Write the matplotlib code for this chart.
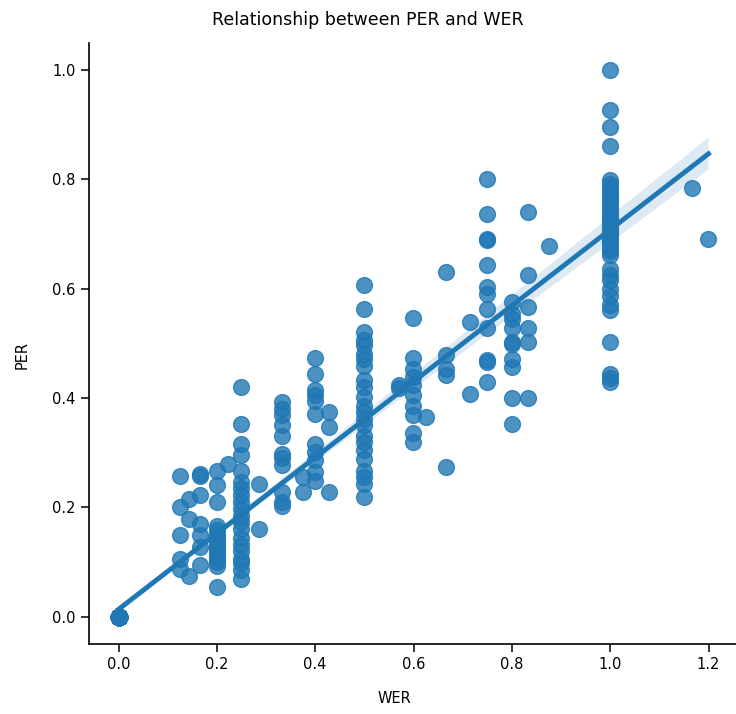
import numpy as np
import pandas as pd
import matplotlib
matplotlib.use("Agg")
import matplotlib.pyplot as plt
import seaborn as sns

# PER values observed at each WER level
per_wer_0 = [0.0] * 150
per_wer_1_8 = [0.258, 0.200, 0.149, 0.106, 0.088]
per_wer_1_7 = [0.216, 0.179, 0.075]
per_wer_1_6 = [0.261, 0.258, 0.222, 0.170, 0.149, 0.128, 0.094]
per_wer_1_5 = [0.267, 0.240, 0.210, 0.165, 0.158, 0.150, 0.143, 0.137, 0.130,
               0.125, 0.118, 0.112, 0.105, 0.100, 0.092, 0.055]
per_wer_2_9 = [0.280]
per_wer_1_4 = [0.420, 0.353, 0.316, 0.295, 0.267, 0.247, 0.235, 0.222, 0.210,
               0.197, 0.185, 0.174, 0.160, 0.143, 0.131, 0.120, 0.106, 0.098,
               0.085, 0.068]
per_wer_2_7 = [0.243, 0.161]
per_wer_1_3 = [0.392, 0.380, 0.368, 0.350, 0.331, 0.298, 0.290, 0.277, 0.228,
               0.210, 0.203]
per_wer_3_8 = [0.255, 0.228]
per_wer_2_5 = [0.473, 0.444, 0.414, 0.405, 0.395, 0.371, 0.316, 0.301, 0.286,
               0.265, 0.249]
per_wer_3_7 = [0.375, 0.347, 0.228]
per_wer_1_2 = [0.607, 0.563, 0.520, 0.505, 0.496, 0.480, 0.472, 0.459, 0.432,
               0.420, 0.402, 0.386, 0.374, 0.362, 0.350, 0.331, 0.319, 0.304,
               0.289, 0.267, 0.255, 0.243, 0.219]
per_wer_4_7 = [0.423, 0.418]
per_wer_3_5 = [0.546, 0.473, 0.453, 0.438, 0.423, 0.405, 0.386, 0.368, 0.335, 0.319]
per_wer_5_8 = [0.365]
per_wer_2_3 = [0.630, 0.478, 0.453, 0.441, 0.274]
per_wer_5_7 = [0.539, 0.408]
per_wer_3_4 = [0.800, 0.737, 0.691, 0.689, 0.643, 0.603, 0.590, 0.563, 0.527,
               0.469, 0.465, 0.429]
per_wer_4_5 = [0.575, 0.554, 0.545, 0.527, 0.502, 0.498, 0.472, 0.456, 0.400, 0.353]
per_wer_5_6 = [0.740, 0.625, 0.566, 0.527, 0.502, 0.400]
per_wer_7_8 = [0.678]
per_wer_1 = [0.999, 0.926, 0.895, 0.860, 0.798, 0.791, 0.786, 0.778, 0.772,
             0.769, 0.761, 0.757, 0.750, 0.744, 0.739, 0.733, 0.727, 0.722,
             0.716, 0.711, 0.706, 0.700, 0.697, 0.690, 0.686, 0.679, 0.672,
             0.668, 0.661, 0.636, 0.624, 0.615, 0.600, 0.587, 0.569, 0.560,
             0.502, 0.444, 0.436, 0.429]
per_wer_7_6 = [0.784]
per_wer_6_5 = [0.690]

wer_levels = [0.0, 1/8, 1/7, 1/6, 1/5, 2/9, 1/4, 2/7, 1/3, 3/8, 2/5, 3/7, 1/2,
              4/7, 3/5, 5/8, 2/3, 5/7, 3/4, 4/5, 5/6, 7/8, 1.0, 7/6, 6/5]
per_groups = [per_wer_0, per_wer_1_8, per_wer_1_7, per_wer_1_6, per_wer_1_5,
              per_wer_2_9, per_wer_1_4, per_wer_2_7, per_wer_1_3, per_wer_3_8,
              per_wer_2_5, per_wer_3_7, per_wer_1_2, per_wer_4_7, per_wer_3_5,
              per_wer_5_8, per_wer_2_3, per_wer_5_7, per_wer_3_4, per_wer_4_5,
              per_wer_5_6, per_wer_7_8, per_wer_1, per_wer_7_6, per_wer_6_5]

df = pd.DataFrame({
    "WER": [w for w, g in zip(wer_levels, per_groups) for _ in g],
    "PER": [p for g in per_groups for p in g],
})

fig = plt.figure(figsize=(7.36, 7.14), dpi=100)
ax = fig.add_axes([89 / 736, 1 - 644 / 714, (738 - 89) / 736, (644 - 43) / 714])

sns.regplot(data=df, x="WER", y="PER", ax=ax, color="#1f77b4",
            scatter_kws={"s": 130}, line_kws={"lw": 3.5}, seed=0)
sns.despine(ax=ax)

fig.suptitle("Relationship between PER and WER", fontsize=12.5, x=0.5, y=0.985)
ax.set_xlabel("WER", fontsize=10.5)
ax.set_ylabel("PER", fontsize=10.5)
ax.xaxis.set_label_coords(0.471, -0.078)
ax.yaxis.set_label_coords(-0.092, 0.481)
ax.tick_params(labelsize=10.5, length=6, width=1.1)
for s in ("left", "bottom"):
    ax.spines[s].set_linewidth(1.2)

fig.savefig("out.png", dpi=100)
